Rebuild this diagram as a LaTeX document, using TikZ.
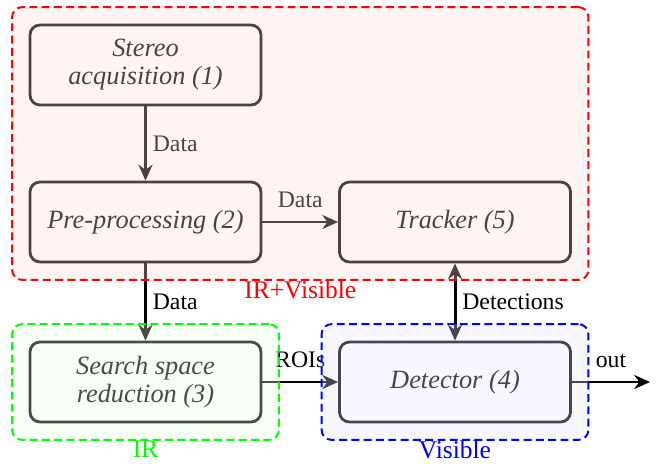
\documentclass[tikz,border=0pt]{standalone}
\usepackage{fontspec}
\setmainfont{Liberation Serif}
\usetikzlibrary{fit,arrows.meta}
\tikzset{
    block/.style={draw,line width=1.6pt,rounded corners=0.2cm,minimum width=4.62cm,minimum height=1.6cm,align=center,font=\fontsize{15}{16}\selectfont\itshape},
    group/.style={draw,dash pattern=on 4.5pt off 2.5pt,line width=1.1pt,rounded corners=0.2cm,inner sep=0.33cm,fill opacity=0.3},
    lbl/.style={font=\fontsize{13.5}{15}\selectfont},
    grouplbl/.style={font=\fontsize{14.5}{16}\selectfont,text opacity=1,inner sep=1pt,label distance=-1pt},
    flow/.style={draw,line width=1.7pt,-{Stealth[length=9pt,width=8pt]}}
}
\begin{document}
\begin{tikzpicture}
    \useasboundingbox (0,0) rectangle (13.14,9.26);
        \node[block] (1) at (2.91,7.96){Stereo\\acquisition (1)};
        \node[block] (2) at (2.91,4.82){Pre-processing (2)};
        \node[block] (5) at (9.10,4.82){Tracker (5)};
        \node[block] (3) at (2.91,1.62){Search space\\reduction (3)};
        \node[block] (4) at (9.10,1.62){Detector (4)};
        \coordinate (out) at (13.0,1.62);

        \path [flow] (1) to node[lbl,midway,right]{Data} (2);
        \path [flow] (2) to node[lbl,midway,above=4pt]{Data} (5);
        \path [flow] (2) to node[lbl,midway,right]{Data} (3);
        \path [flow] (3) to node[lbl,midway,above=4pt]{ROIs} (4);
        \path [flow,{Stealth[length=9pt,width=8pt]}-{Stealth[length=9pt,width=8pt]}] (4) to node[lbl,midway,right]{Detections} (5);
        \path [flow] (4) to node[lbl,midway,above=4pt]{out} (out);

        % frames over the blocks
        \node[group,draw=red,fill=red!15,fit=(1) (2) (5),label={[grouplbl,text=red]below:IR+Visible}] (both) {};
        \node[group,draw=green,fill=green!10,fit=(3),label={[grouplbl,text=green]below:IR}] (ir) {};
        \node[group,draw=blue,fill=blue!10,fit=(4),label={[grouplbl,text=blue]below:Visible}] (vis) {};
    \end{tikzpicture}
\end{document}
